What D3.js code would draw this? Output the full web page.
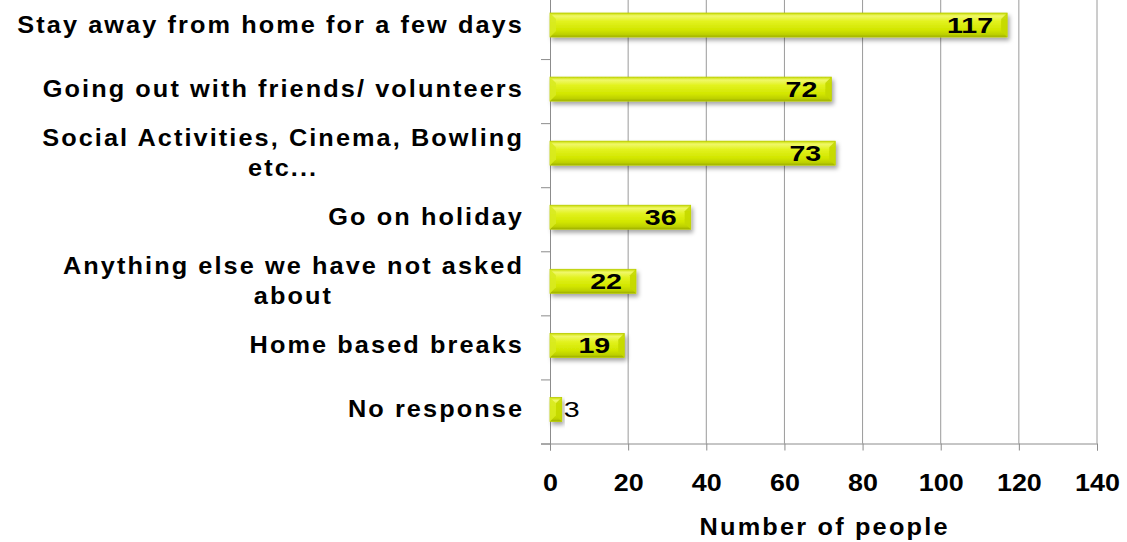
<!DOCTYPE html>
<html>
<head>
<meta charset="utf-8">
<script src="https://cdn.jsdelivr.net/npm/d3@7"></script>
<style>
  html, body { margin: 0; padding: 0; background: #fff; }
  svg { display: block; font-family: "Liberation Sans", Arial, sans-serif; }
</style>
</head>
<body>
<svg id="chart" width="1127" height="542"></svg>
<script>
// Responses: what would people like to do for a break
const categories = [
  ["Stay away from home for a few days"],
  ["Going out with friends/ volunteers"],
  ["Social Activities, Cinema, Bowling", "etc..."],
  ["Go on holiday"],
  ["Anything else we have not asked", "about"],
  ["Home based breaks"],
  ["No response"]
];
const counts = [117, 72, 73, 36, 22, 19, 3];
const xTicks = [0, 20, 40, 60, 80, 100, 120, 140];
const xTitle = "Number of people";

const svg = d3.select("#chart");
const stretch = 1.1;    // slightly widened lettering
const spacing = 1.9;    // extra letter spacing for labels
const plotLeft = 550, plotRight = 1097, plotTop = -5, plotBottom = 443.5;

const x = d3.scaleLinear().domain([0, 140]).range([plotLeft, plotRight]);
const y = d3.scaleBand().domain(d3.range(categories.length))
  .range([plotTop, plotBottom]).paddingInner(0.625).paddingOuter(0.3125);
const yEdge = d3.scaleLinear().domain([0, categories.length]).range([plotTop, plotBottom]);

// letter spacing is also added after the last glyph; nudge anchors to compensate
function anchorShift(anchor, ls) {
  return anchor === "end" ? ls * stretch : anchor === "middle" ? ls * stretch / 2 : 0;
}

// defs: bar gradient and drop shadow
const defs = svg.append("defs");
const grad = defs.append("linearGradient").attr("id", "barFill")
  .attr("x1", 0).attr("y1", 0).attr("x2", 0).attr("y2", 1);
[["0%", "#c9dc00"], ["12%", "#f0f86a"], ["35%", "#e2f21e"], ["70%", "#d2e600"], ["90%", "#bccf00"], ["100%", "#98aa00"]]
  .forEach(([o, c]) => grad.append("stop").attr("offset", o).attr("stop-color", c));
const shadow = defs.append("filter").attr("id", "shadow")
  .attr("x", "-10%").attr("y", "-30%").attr("width", "130%").attr("height", "180%");
shadow.append("feDropShadow").attr("dx", 2).attr("dy", 3).attr("stdDeviation", 2)
  .attr("flood-color", "#000").attr("flood-opacity", 0.35);

// vertical gridlines
svg.append("g").selectAll("line").data(xTicks.slice(1)).join("line")
  .attr("x1", d => x(d)).attr("x2", d => x(d))
  .attr("y1", plotTop).attr("y2", plotBottom)
  .attr("stroke", "#9a9a9a").attr("stroke-width", 1);

// x axis
const xAxis = svg.append("g").attr("transform", `translate(0,${plotBottom})`)
  .call(d3.axisBottom(x).tickValues(xTicks).tickSize(7).tickPadding(23.5));
xAxis.select(".domain").attr("stroke", "#8c8c8c");
xAxis.selectAll(".tick line").attr("stroke", "#8c8c8c");
xAxis.selectAll(".tick text")
  .attr("font-size", 24).attr("font-weight", "bold").attr("fill", "#000")
  .attr("font-family", "Liberation Sans, Arial, sans-serif")
  .attr("transform", `scale(1.12,1)`);

// y axis with ticks at category boundaries
const yAxis = svg.append("g").attr("transform", `translate(${plotLeft},0)`)
  .call(d3.axisLeft(yEdge).tickValues(d3.range(categories.length + 1)).tickSize(9).tickFormat(""));
yAxis.select(".domain").attr("stroke", "#8c8c8c");
yAxis.selectAll(".tick line").attr("stroke", "#8c8c8c");

// bars with bevelled ends
const bw = 6;
const bars = svg.append("g").selectAll("g").data(counts).join("g")
  .attr("filter", "url(#shadow)");
bars.append("rect")
  .attr("x", x(0)).attr("y", (d, i) => y(i) - 2)
  .attr("width", d => x(d) - x(0)).attr("height", y.bandwidth())
  .attr("fill", "url(#barFill)")
  .attr("stroke", "#b9cc00").attr("stroke-width", 0.8);
// right bevel facet
bars.append("polygon")
  .attr("points", (d, i) => {
    const x1 = x(d), y0 = y(i) - 2, h = y.bandwidth();
    const b = Math.min(bw, (x(d) - x(0)) / 2);
    return [[x1 - b, y0 + b], [x1, y0], [x1, y0 + h], [x1 - b, y0 + h - b]].join(" ");
  })
  .attr("fill", "#c4d800").attr("opacity", 0.9);
// left bevel facet
bars.append("polygon")
  .attr("points", (d, i) => {
    const x0 = x(0), y0 = y(i) - 2, h = y.bandwidth();
    const b = Math.min(bw, (x(d) - x(0)) / 2);
    return [[x0, y0], [x0 + b, y0 + b], [x0 + b, y0 + h - b], [x0, y0 + h]].join(" ");
  })
  .attr("fill", "#d8ea20").attr("opacity", 0.9);

// value labels: inside the bar end, or just outside for very short bars
const valueStretch = 1.3;
svg.append("g").selectAll("text").data(counts).join("text")
  .attr("transform", (d, i) => {
    const yy = y(i) - 2 + y.bandwidth() / 2 + 8;
    const xx = d < 10 ? x(d) + 2 : x(d) - 14;
    return `translate(${xx},${yy}) scale(${valueStretch},1)`;
  })
  .attr("text-anchor", d => d < 10 ? "start" : "end")
  .attr("font-size", 22)
  .attr("font-weight", d => d < 10 ? "normal" : "bold")
  .attr("fill", "#000")
  .text(d => d);

// category labels (multi-line ones centred on each other, right-aligned block)
const labelRight = 522, lineGap = 30;
categories.forEach((lines, i) => {
  const cy = y(i) + y.bandwidth() / 2 - 2;
  const g = svg.append("g");
  const texts = lines.map(t => g.append("text")
    .attr("font-size", 23).attr("font-weight", "bold").attr("fill", "#000")
    .attr("letter-spacing", spacing)
    .attr("text-anchor", "middle")
    .text(t));
  const widths = texts.map(t => (t.node().getComputedTextLength() - spacing) * stretch);
  const maxW = Math.max(...widths);
  const cx = labelRight - maxW / 2 + anchorShift("middle", spacing);
  texts.forEach((t, j) => {
    const yy = cy + (j - (lines.length - 1) / 2) * lineGap + 8;
    t.attr("transform", `translate(${cx},${yy}) scale(${stretch},1)`);
  });
});

// axis title
const titleSpacing = 2;
svg.append("text")
  .attr("transform", `translate(${(plotLeft + plotRight) / 2 + anchorShift("middle", titleSpacing)},535) scale(${stretch},1)`)
  .attr("text-anchor", "middle")
  .attr("letter-spacing", titleSpacing)
  .attr("font-size", 23).attr("font-weight", "bold").attr("fill", "#000")
  .text(xTitle);
</script>
</body>
</html>
